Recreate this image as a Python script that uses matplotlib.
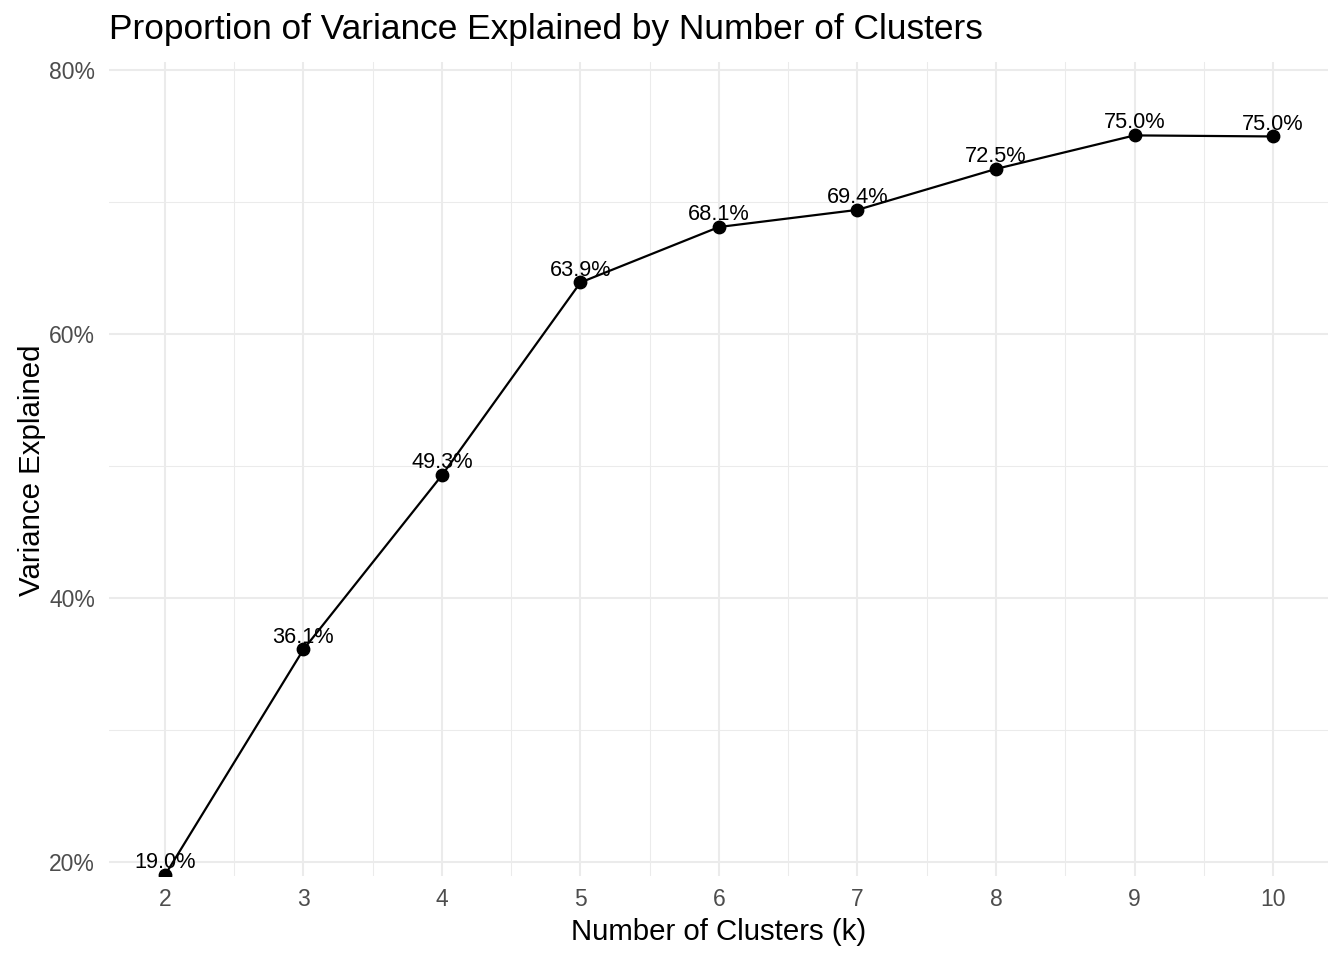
import matplotlib
matplotlib.use("Agg")
import matplotlib.pyplot as plt
from matplotlib.ticker import FixedLocator, FuncFormatter

plt.rcParams['font.family'] = ['Liberation Sans', 'DejaVu Sans']

# data
k_values = [2, 3, 4, 5, 6, 7, 8, 9, 10]
variance = [0.190, 0.361, 0.493, 0.639, 0.681, 0.694, 0.725, 0.7504, 0.7496]
labels = ["19.0%", "36.1%", "49.3%", "63.9%", "68.1%", "69.4%", "72.5%", "75.0%", "75.0%"]
y_ticks = [0.2, 0.4, 0.6, 0.8]
y_minor = [0.3, 0.5, 0.7]
x_minor = [2.5, 3.5, 4.5, 5.5, 6.5, 7.5, 8.5, 9.5]

W, H = 1344, 960
fig = plt.figure(figsize=(W / 100, H / 100), dpi=100)
ax = fig.add_axes([109 / W, 1 - 876 / H, (1328 - 109) / W, (876 - 62) / H])

ax.set_xlim(1.596, 10.397)
ax.set_ylim(0.1894, 0.806)

# grid like theme_minimal
ax.set_xticks(k_values)
ax.set_yticks(y_ticks)
ax.xaxis.set_minor_locator(FixedLocator(x_minor))
ax.yaxis.set_minor_locator(FixedLocator(y_minor))
ax.grid(True, which='major', color='#EBEBEB', linewidth=1.5)
ax.grid(True, which='minor', color='#EBEBEB', linewidth=0.75)
ax.set_axisbelow(True)
for s in ax.spines.values():
    s.set_visible(False)
ax.tick_params(which='both', length=0)
ax.tick_params(axis='both', labelsize=16.5, labelcolor='#4D4D4D')
ax.tick_params(axis='x', pad=9)
ax.tick_params(axis='y', pad=10)
ax.yaxis.set_major_formatter(FuncFormatter(lambda v, p: f"{v*100:.0f}%"))

ax.plot(k_values, variance, color='black', linewidth=1.6, zorder=3)
ax.scatter(k_values, variance, s=80, color='black', zorder=4)
for x, y, t in zip(k_values, variance, labels):
    ax.annotate(t, (x, y), xytext=(0, 5), textcoords='offset points',
                ha='center', va='baseline', fontsize=15.7, color='black', zorder=5,
                annotation_clip=False)

fig.text(109 / W, 1 - 29 / H, "Proportion of Variance Explained by Number of Clusters",
         fontsize=25.4, ha='left', va='center')
fig.text((109 + 1328) / 2 / W, 1 - 932 / H, "Number of Clusters (k)",
         fontsize=21.2, ha='center', va='center')
fig.text(32 / W, 1 - 470 / H, "Variance Explained", fontsize=21.2,
         ha='center', va='center', rotation=90)

fig.savefig("out.png", dpi=100, facecolor='white')
